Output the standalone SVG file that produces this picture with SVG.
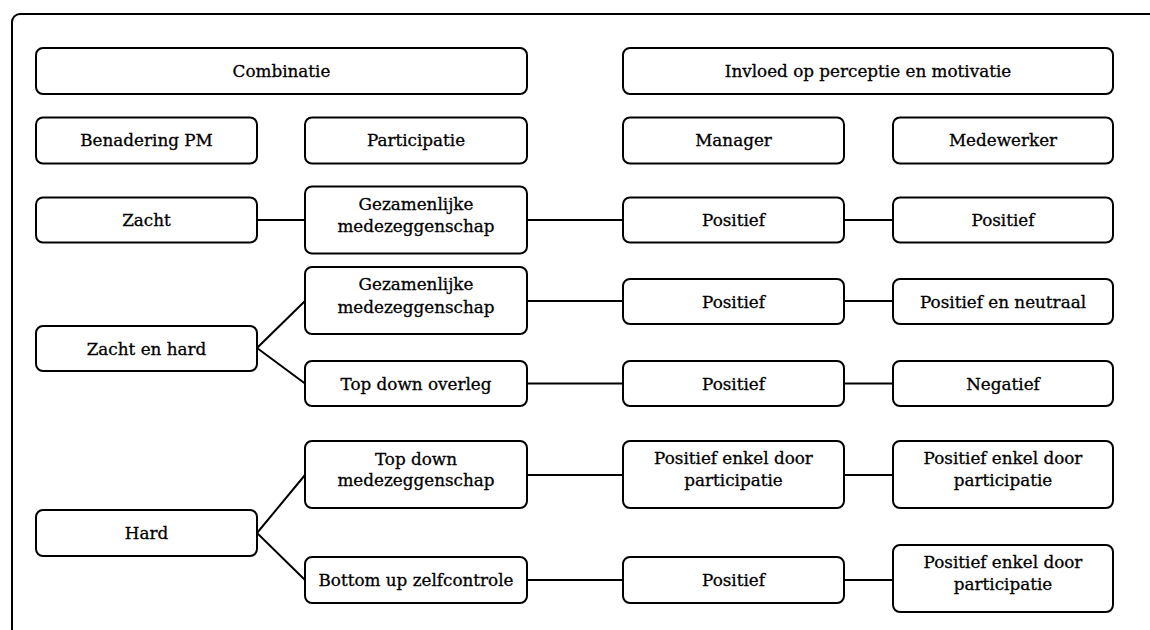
<svg xmlns="http://www.w3.org/2000/svg" width="1150" height="630" viewBox="0 0 1150 630">
<style>
.n{fill:#fff;stroke:#000;stroke-width:2}
.t{font-family:"DejaVu Serif","Liberation Serif",serif;font-size:16.8px;fill:#000;stroke:#000;stroke-width:0.3;text-anchor:middle}
.c{stroke:#000;stroke-width:2;fill:none}
</style>
<rect width="1150" height="630" fill="#fff"/>
<rect x="12" y="14" width="1200" height="700" rx="8" fill="none" stroke="#000" stroke-width="2"/>
<g id="connectors" class="c">
<line x1="257" y1="220" x2="305" y2="220"/>
<line x1="527" y1="220" x2="623" y2="220"/>
<line x1="844" y1="220" x2="893" y2="220"/>
<polyline points="305,301 257,348 305,383.5"/>
<line x1="527" y1="301" x2="623" y2="301"/>
<line x1="844" y1="301" x2="893" y2="301"/>
<line x1="527" y1="383.5" x2="623" y2="383.5"/>
<line x1="844" y1="383.5" x2="893" y2="383.5"/>
<polyline points="305,475 257,533 305,580"/>
<line x1="527" y1="475" x2="623" y2="475"/>
<line x1="844" y1="475" x2="893" y2="475"/>
<line x1="527" y1="580" x2="623" y2="580"/>
<line x1="844" y1="580" x2="893" y2="580"/>
</g>
<g id="combinatie"><rect class="n" x="36" y="48" width="491" height="46" rx="7"/><text class="t" x="281.5" y="76.5">Combinatie</text></g>
<g id="invloed"><rect class="n" x="623" y="48" width="490" height="46" rx="7"/><text class="t" x="868" y="76.5">Invloed op perceptie en motivatie</text></g>
<g id="benadering"><rect class="n" x="36" y="117.5" width="221" height="46" rx="7"/><text class="t" x="146.5" y="146">Benadering PM</text></g>
<g id="participatie"><rect class="n" x="305" y="117.5" width="222" height="46" rx="7"/><text class="t" x="416" y="146">Participatie</text></g>
<g id="manager"><rect class="n" x="623" y="117.5" width="221" height="46" rx="7"/><text class="t" x="733.5" y="146">Manager</text></g>
<g id="medewerker"><rect class="n" x="893" y="117.5" width="220" height="46" rx="7"/><text class="t" x="1003" y="146">Medewerker</text></g>
<g id="zacht"><rect class="n" x="36" y="197.5" width="221" height="45" rx="7"/><text class="t" x="146.5" y="226">Zacht</text></g>
<g id="gez1"><rect class="n" x="305" y="186.5" width="222" height="67" rx="7"/><text class="t" x="416" y="209.5">Gezamenlijke</text><text class="t" x="416" y="232">medezeggenschap</text></g>
<g id="pos1m"><rect class="n" x="623" y="197.5" width="221" height="45" rx="7"/><text class="t" x="733.5" y="226">Positief</text></g>
<g id="pos1w"><rect class="n" x="893" y="197.5" width="220" height="45" rx="7"/><text class="t" x="1003" y="226">Positief</text></g>
<g id="gez2"><rect class="n" x="305" y="267" width="222" height="67" rx="7"/><text class="t" x="416" y="290">Gezamenlijke</text><text class="t" x="416" y="312.5">medezeggenschap</text></g>
<g id="pos2m"><rect class="n" x="623" y="279" width="221" height="45" rx="7"/><text class="t" x="733.5" y="307.5">Positief</text></g>
<g id="pos2w"><rect class="n" x="893" y="279" width="220" height="45" rx="7"/><text class="t" x="1003" y="307.5">Positief en neutraal</text></g>
<g id="zachthard"><rect class="n" x="36" y="326" width="221" height="45" rx="7"/><text class="t" x="146.5" y="354.5">Zacht en hard</text></g>
<g id="topoverleg"><rect class="n" x="305" y="361" width="222" height="45" rx="7"/><text class="t" x="416" y="389.5">Top down overleg</text></g>
<g id="pos3m"><rect class="n" x="623" y="361" width="221" height="45" rx="7"/><text class="t" x="733.5" y="389.5">Positief</text></g>
<g id="neg3w"><rect class="n" x="893" y="361" width="220" height="45" rx="7"/><text class="t" x="1003" y="389.5">Negatief</text></g>
<g id="topmede"><rect class="n" x="305" y="441" width="222" height="67" rx="7"/><text class="t" x="416" y="464.5">Top down</text><text class="t" x="416" y="486">medezeggenschap</text></g>
<g id="pos4m"><rect class="n" x="623" y="441" width="221" height="67" rx="7"/><text class="t" x="733.5" y="464">Positief enkel door</text><text class="t" x="733.5" y="486">participatie</text></g>
<g id="pos4w"><rect class="n" x="893" y="441" width="220" height="67" rx="7"/><text class="t" x="1003" y="464">Positief enkel door</text><text class="t" x="1003" y="486">participatie</text></g>
<g id="hard"><rect class="n" x="36" y="510" width="221" height="46" rx="7"/><text class="t" x="146.5" y="539">Hard</text></g>
<g id="bottomup"><rect class="n" x="305" y="557" width="222" height="46" rx="7"/><text class="t" x="416" y="586">Bottom up zelfcontrole</text></g>
<g id="pos5m"><rect class="n" x="623" y="557" width="221" height="46" rx="7"/><text class="t" x="733.5" y="586">Positief</text></g>
<g id="pos5w"><rect class="n" x="893" y="545" width="220" height="67" rx="7"/><text class="t" x="1003" y="567.5">Positief enkel door</text><text class="t" x="1003" y="590">participatie</text></g>
</svg>
